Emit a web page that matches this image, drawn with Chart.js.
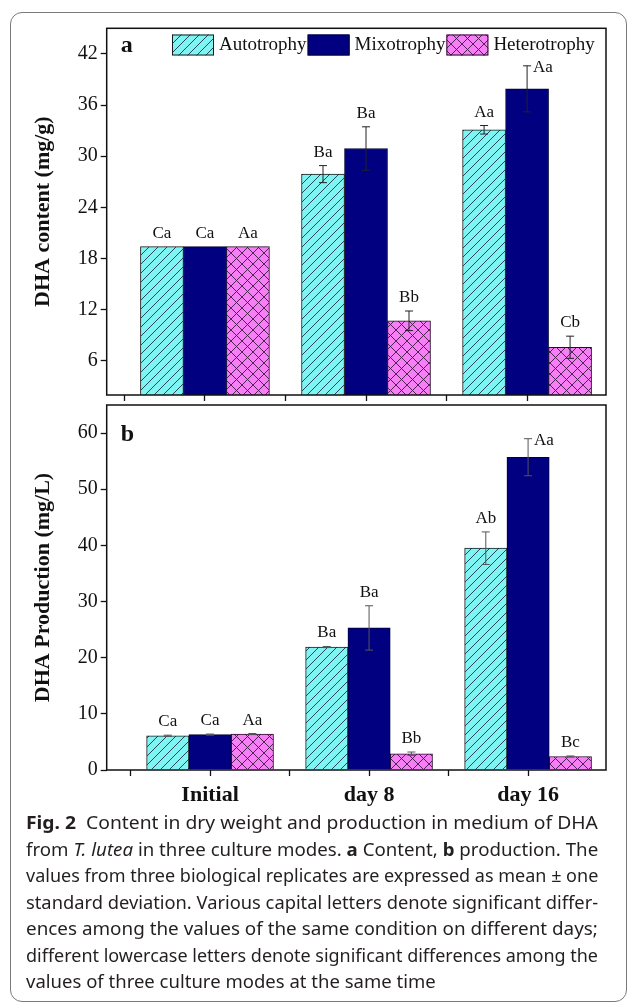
<!DOCTYPE html>
<html>
<head>
<meta charset="utf-8">
<script src="https://cdn.jsdelivr.net/npm/chart.js@4.4.1/dist/chart.umd.min.js"></script>
<style>
  html, body { margin: 0; padding: 0; background: #fff; }
  #page { position: relative; width: 630px; height: 1006px; overflow: hidden; }
  #frame { position: absolute; left: 10px; top: 12px; width: 615px; height: 988px;
           border: 1.5px solid #7a7a7a; border-radius: 12px; }
  canvas { position: absolute; left: 0; }
  #chartA { top: 0; }
  #chartB { top: 390px; }
  .cap { position: absolute; left: 26px; top: 809px; width: 572px;
         font-family: 'Noto Sans', sans-serif; font-size: 17.5px; color: #231f20; }
  .cap div { height: 26.5px; line-height: 26.5px; white-space: nowrap; }
  .cap span.l { display: inline-block; transform-origin: 0 50%; }
</style>
</head>
<body>
<div id="page">
  <div id="frame"></div>
  <canvas id="chartA" width="630" height="410"></canvas>
  <canvas id="chartB" width="630" height="440"></canvas>
  <div class="cap">
    <div><span class="l"><b>Fig. 2</b>&nbsp; Content in dry weight and production in medium of DHA</span></div>
    <div><span class="l">from <i>T. lutea</i> in three culture modes. <b>a</b> Content, <b>b</b> production. The</span></div>
    <div><span class="l">values from three biological replicates are expressed as mean ± one</span></div>
    <div><span class="l">standard deviation. Various capital letters denote significant differ-</span></div>
    <div><span class="l">ences among the values of the same condition on different days;</span></div>
    <div><span class="l">different lowercase letters denote significant differences among the</span></div>
    <div><span class="l">values of three culture modes at the same time</span></div>
  </div>
</div>
<script>
const categories = ['Initial', 'day 8', 'day 16'];
const seriesNames = ['Autotrophy', 'Mixotrophy', 'Heterotrophy'];

// a: DHA content (mg/g)
const contentAuto = [19.4, 27.9, 33.1];
const contentMixo = [19.4, 30.9, 37.9];
const contentHetero = [19.4, 10.7, 7.6];
const contentAutoSd = [0, 1.0, 0.5];
const contentMixoSd = [0, 2.55, 2.7];
const contentHeteroSd = [0, 1.15, 1.3];
const contentAutoLetters = ['Ca', 'Ba', 'Aa'];
const contentMixoLetters = ['Ca', 'Ba', 'Aa'];
const contentHeteroLetters = ['Aa', 'Bb', 'Cb'];
const contentTicks = [6, 12, 18, 24, 30, 36, 42];

// b: DHA production (mg/L)
const prodAuto = [6.1, 21.9, 39.5];
const prodMixo = [6.3, 25.3, 55.7];
const prodHetero = [6.4, 2.9, 2.4];
const prodAutoSd = [0.1, 0.1, 2.9];
const prodMixoSd = [0.1, 3.95, 3.3];
const prodHeteroSd = [0.1, 0.3, 0.1];
const prodAutoLetters = ['Ca', 'Ba', 'Ab'];
const prodMixoLetters = ['Ca', 'Ba', 'Aa'];
const prodHeteroLetters = ['Aa', 'Bb', 'Bc'];
const prodTicks = [0, 10, 20, 30, 40, 50, 60];

const xTicks = [0.5, 1, 1.5, 2, 2.5, 3];
const SERIF = "'Liberation Serif', 'Times New Roman', serif";

function hatch(ctx, bg, fg, size, cross) {
  const c = document.createElement('canvas');
  c.width = c.height = size;
  const g = c.getContext('2d');
  g.fillStyle = bg;
  g.fillRect(0, 0, size, size);
  g.strokeStyle = fg;
  g.lineWidth = 0.9;
  g.beginPath();
  g.moveTo(0, size); g.lineTo(size, 0);
  g.moveTo(-size / 2, size / 2); g.lineTo(size / 2, -size / 2);
  g.moveTo(size / 2, size * 1.5); g.lineTo(size * 1.5, size / 2);
  if (cross) {
    g.moveTo(0, 0); g.lineTo(size, size);
    g.moveTo(-size / 2, size / 2); g.lineTo(size / 2, size * 1.5);
    g.moveTo(size / 2, -size / 2); g.lineTo(size * 1.5, size / 2);
  }
  g.stroke();
  return ctx.createPattern(c, 'repeat');
}

// frame, error bars, letters, panel tag, legend
const extras = {
  id: 'extras',
  afterDatasetsDraw(chart) {
    const { ctx, chartArea } = chart;
    const y = chart.scales.y;
    const ex = chart.options.plugins.extras;
    ctx.save();
    chart.data.datasets.forEach((ds, i) => {
      const meta = chart.getDatasetMeta(i);
      meta.data.forEach((bar, j) => {
        const v = ds.data[j].y;
        const sd = ds.sd[j];
        const x = bar.x;
        const yTop = y.getPixelForValue(v + sd);
        const yBot = y.getPixelForValue(v - sd);
        if (sd > 0) {
          ctx.strokeStyle = ex.errColor;
          ctx.lineWidth = 1;
          ctx.beginPath();
          ctx.moveTo(x, yTop); ctx.lineTo(x, yBot);
          ctx.moveTo(x - 4, yTop); ctx.lineTo(x + 4, yTop);
          ctx.moveTo(x - 4, yBot); ctx.lineTo(x + 4, yBot);
          ctx.stroke();
        }
        ctx.fillStyle = '#111';
        ctx.font = '17px ' + SERIF;
        if (yTop - chartArea.top < 45) {
          ctx.textAlign = 'left';
          ctx.textBaseline = 'middle';
          ctx.fillText(ds.letters[j], x + 6, yTop + 2);
        } else {
          ctx.textAlign = 'center';
          ctx.textBaseline = 'alphabetic';
          ctx.fillText(ds.letters[j], x, yTop - 9);
        }
      });
    });
    ctx.restore();
  },
  afterDraw(chart) {
    const { ctx, chartArea: a } = chart;
    const ex = chart.options.plugins.extras;
    ctx.save();
    ctx.strokeStyle = '#111';
    ctx.lineWidth = 1.5;
    ctx.strokeRect(a.left, a.top, a.right - a.left, a.bottom - a.top);
    ctx.fillStyle = '#111';
    ctx.font = 'bold 24px ' + SERIF;
    ctx.textAlign = 'left';
    ctx.textBaseline = 'alphabetic';
    ctx.fillText(ex.tag, a.left + 14, a.top + ex.tagDy);
    if (ex.legend) {
      ctx.font = '19px ' + SERIF;
      ctx.textBaseline = 'middle';
      let lx = 172;
      const ly = 34.5;
      chart.data.datasets.forEach(ds => {
        ctx.fillStyle = ds.backgroundColor;
        ctx.fillRect(lx, ly, 42, 21);
        ctx.strokeStyle = ds.borderColor;
        ctx.lineWidth = 1;
        ctx.strokeRect(lx + 0.5, ly + 0.5, 41, 20);
        ctx.fillStyle = '#111';
        ctx.fillText(ds.label, lx + 47, ly + 11);
        lx += 47 + ctx.measureText(ds.label).width + 1;
      });
    }
    ctx.restore();
  }
};

function makeChart(id, o) {
  const canvas = document.getElementById(id);
  const ctx = canvas.getContext('2d');
  const fills = [
    hatch(ctx, '#7ff5f3', '#1c3448', 9, false),
    '#000080',
    hatch(ctx, '#f77ff5', '#3a1a40', 11, true)
  ];
  const borders = ['#1a1a1a', '#00003a', '#2a0a2a'];
  const datasets = seriesNames.map((name, i) => ({
    label: name,
    data: categories.map((c, j) => ({ x: j + 1, y: o.values[i][j] })),
    sd: o.sd[i],
    letters: o.letters[i],
    backgroundColor: fills[i],
    borderColor: borders[i],
    borderWidth: 1,
    barThickness: o.barW
  }));
  return new Chart(ctx, {
    type: 'bar',
    data: { datasets },
    plugins: [extras],
    options: {
      responsive: false,
      animation: false,
      layout: { padding: { top: o.padTop, right: 24, left: 0, bottom: 0 } },
      plugins: {
        legend: { display: false },
        tooltip: { enabled: false },
        extras: o.extras
      },
      scales: {
        x: {
          type: 'linear',
          offset: false,
          min: o.xMin,
          max: 3.49,
          afterBuildTicks: s => { s.ticks = xTicks.map(v => ({ value: v })); },
          afterFit: s => { s.height = o.xH; },
          border: { display: false },
          grid: { offset: false, drawOnChartArea: false, drawTicks: true, tickLength: 6, tickWidth: 1.3, tickColor: '#111' },
          ticks: {
            display: o.xLabels,
            autoSkip: false,
            maxRotation: 0,
            padding: 6,
            color: '#111',
            font: { family: SERIF, size: 22, weight: 'bold' },
            callback: v => Number.isInteger(v) ? categories[v - 1] : ''
          }
        },
        y: {
          min: o.yMin,
          max: o.yMax,
          afterBuildTicks: s => { s.ticks = o.yTicks.map(v => ({ value: v })); },
          afterFit: s => { s.width = 106.7; },
          border: { display: false },
          grid: { drawOnChartArea: false, drawTicks: true, tickLength: 6, tickWidth: 1.3, tickColor: '#111' },
          ticks: { padding: 3, color: '#111', font: { family: SERIF, size: 20 } },
          title: {
            display: true,
            text: o.yTitle,
            color: '#111',
            padding: { top: 30, bottom: 0 },
            font: { family: SERIF, size: 22, weight: 'bold' }
          }
        }
      }
    }
  });
}

makeChart('chartA', {
  values: [contentAuto, contentMixo, contentHetero],
  sd: [contentAutoSd, contentMixoSd, contentHeteroSd],
  letters: [contentAutoLetters, contentMixoLetters, contentHeteroLetters],
  yMin: 2, yMax: 45, yTicks: contentTicks,
  yTitle: 'DHA content (mg/g)',
  xMin: 0.39, barW: 43, padTop: 28.3, xH: 11, xLabels: false,
  extras: { tag: 'a', tagDy: 24, legend: true, errColor: '#222' }
});

makeChart('chartB', {
  values: [prodAuto, prodMixo, prodHetero],
  sd: [prodAutoSd, prodMixoSd, prodHeteroSd],
  letters: [prodAutoLetters, prodMixoLetters, prodHeteroLetters],
  yMin: 0, yMax: 65, yTicks: prodTicks,
  yTitle: 'DHA Production (mg/L)',
  xMin: 0.35, barW: 42.3, padTop: 9, xH: 60, xLabels: true,
  extras: { tag: 'b', tagDy: 36, legend: false, errColor: '#555' }
});

// fit caption lines to the justified column width
const lines = Array.from(document.querySelectorAll('.cap span.l'));
const scales = lines.map(s => 572 / s.offsetWidth);
const avg = scales.slice(0, -1).reduce((p, c) => p + c, 0) / (scales.length - 1);
lines.forEach((s, i) => {
  const k = i === lines.length - 1 ? avg : scales[i];
  s.style.transform = 'scaleX(' + k + ')';
});
</script>
</body>
</html>
